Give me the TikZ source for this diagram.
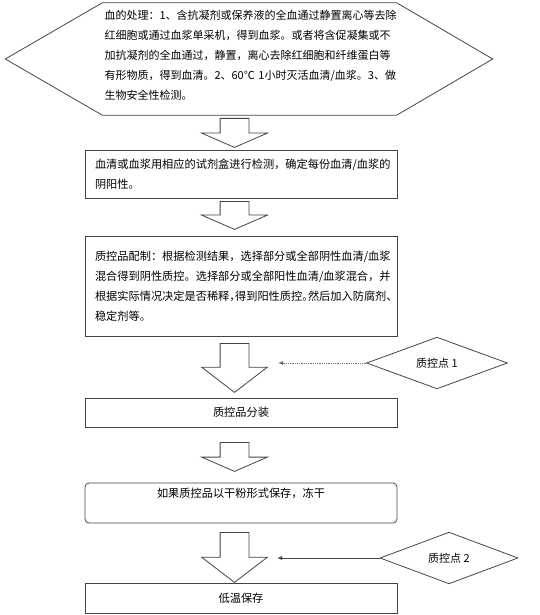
\documentclass[tikz,border=0pt]{standalone}
\usepackage{fontspec}
\setmainfont{Noto Sans CJK SC}
\usetikzlibrary{arrows.meta, positioning, shapes.geometric, shapes.arrows}
\definecolor{lineGray}{RGB}{68,68,68}
\definecolor{faintGray}{RGB}{110,110,110}
\tikzset{
    hexbox/.style={
        rectangle,
        align=left,
        text width=290pt,
        inner xsep=2pt,
        minimum height=104pt,
        font=\fontsize{11}{20}\selectfont
    },
    hexline/.style={draw=lineGray, line width=0.8pt},
    stepbox/.style={
        rectangle,
        draw=lineGray,
        line width=0.8pt,
        align=left,
        text width=292pt,
        inner xsep=10pt,
        font=\fontsize{11.2}{20}\selectfont
    },
    bigarrow/.style={
        single arrow,
        draw=lineGray,
        line width=0.8pt,
        shape border rotate=270,
        minimum width=65pt,
        single arrow head extend=18.5pt,
        single arrow tip angle=133,
        inner xsep=14pt,
        inner ysep=0pt,
        anchor=tail
    },
    qcpoint/.style={
        diamond,
        draw=lineGray,
        line width=0.8pt,
        inner sep=0pt,
        font=\fontsize{11}{13}\selectfont
    },
    qcarrow/.style={-{Latex[length=5pt, width=4pt]}, line width=0.8pt, draw=lineGray}
}
\begin{document}
\begin{tikzpicture}[x=1pt, y=-1pt]
    \useasboundingbox (0,0) rectangle (540,615);
    % main steps
    \node[hexbox] (blood) at (249.5,55) {血的处理：1、含抗凝剂或保养液的全血通过静置离心等去除\\红细胞或通过血浆单采机，得到血浆。或者将含促凝集或不\\加抗凝剂的全血通过，静置，离心去除红细胞和纤维蛋白等\\有形物质，得到血清。2、60℃~1小时灭活血清/血浆。3、做\\生物安全性检测。};
    \draw[hexline] (blood.north west) -- (blood.north east) -- ([xshift=96pt, yshift=-4pt]blood.east)
        -- ([yshift=-8pt]blood.south east) -- ([yshift=-8pt]blood.south west) -- ([xshift=-97pt, yshift=-4pt]blood.west) -- cycle;
    \node[stepbox, minimum height=48pt] (detect) at (241,174) {血清或血浆用相应的试剂盒进行检测，确定每份血清/血浆的\\阴阳性。};
    \node[stepbox, minimum height=100pt] (prep) at (241,286) {质控品配制：根据检测结果，选择部分或全部阴性血清/血浆\\混合得到阴性质控。选择部分或全部阳性血清/血浆混合，并\\根据实际情况决定是否稀释，\kern-5.5pt 得到阳性质控。\kern-5.5pt 然后加入防腐剂、\\稳定剂等。};
    \node[stepbox, align=center, minimum height=29pt] (aliquot) at (241,412.5) {质控品分装};
    \node[stepbox, align=center, rounded corners=4pt, minimum height=40pt] (freeze) at (241,503) {如果质控品以干粉形式保存，冻干\\ \phantom{冻}};
    \node[stepbox, align=center, minimum height=30pt] (store) at (241,598) {低温保存};
    % block arrows
    \node[bigarrow, minimum height=29pt] (a1) at (234.5,118) {};
    \node[bigarrow, minimum height=28pt] (a2) at (234.5,201) {};
    \node[bigarrow, minimum height=49pt, single arrow tip angle=105] (a3) at (234.5,343) {};
    \node[bigarrow, minimum height=29pt] (a4) at (234.5,442) {};
    \node[bigarrow, minimum height=50pt, single arrow tip angle=105] (a5) at (234.5,532) {};
    % quality control points
    \node[qcpoint, minimum width=141pt, minimum height=42pt] (qc1) at (437,363) {质控点 1};
    \node[qcpoint, minimum width=138pt, minimum height=50pt] (qc2) at (449,558) {质控点 2};
    \coordinate (qc1end) at (278,363);
    \coordinate (qc2end) at (277,558);
    \draw[qcarrow, densely dotted, draw=faintGray] (qc1.west) -- (qc1end);
    \draw[qcarrow] (qc2.west) -- (qc2end);
\end{tikzpicture}
\end{document}
